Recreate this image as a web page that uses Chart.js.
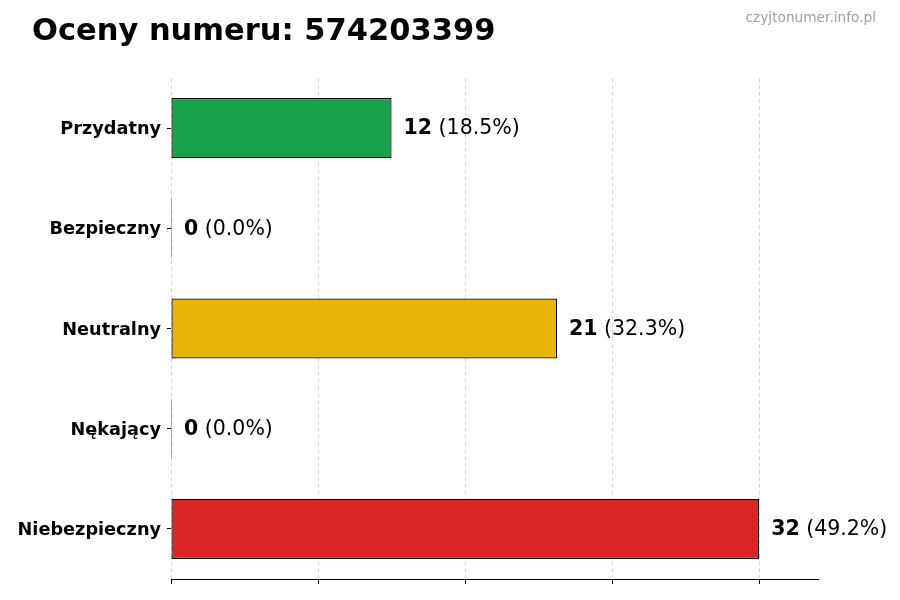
<!DOCTYPE html>
<html>
<head>
<meta charset="utf-8">
<script src="https://cdn.jsdelivr.net/npm/chart.js@4"></script>
<style>
  html, body { margin: 0; padding: 0; background: #fff; }
  #wrap { width: 900px; height: 600px; }
</style>
</head>
<body>
<div id="wrap"><canvas id="grafico" width="900" height="600"></canvas></div>
<script>
const tytul = "Oceny numeru: 574203399";
const znakWodny = "czyjtonumer.info.pl";
const kategorie = ["Przydatny", "Bezpieczny", "Neutralny", "Nękający", "Niebezpieczny"];
const liczby = [12, 0, 21, 0, 32];
const kolory = ["#16A34A", "#9CA3AF", "#EAB308", "#F97316", "#DC2626"];
const osX = [0, 8, 16, 24, 32];

const FONT = "'DejaVu Sans', sans-serif";
const suma = liczby.reduce((a, b) => a + b, 0);

// etykiety przy słupkach, tytuł i znak wodny
const etykiety = {
  id: "etykiety",
  afterDatasetsDraw(chart) {
    const ctx = chart.ctx;
    const meta = chart.getDatasetMeta(0);
    ctx.save();
    ctx.textBaseline = "middle";
    meta.data.forEach((bar, i) => {
      const wartosc = String(liczby[i]);
      const proc = " (" + (suma ? (liczby[i] / suma * 100) : 0).toFixed(1) + "%)";
      let x = bar.x + 12;
      ctx.fillStyle = "#000";
      ctx.font = "bold 20.5px " + FONT;
      ctx.fillText(wartosc, x, bar.y + 1);
      x += ctx.measureText(wartosc).width;
      ctx.font = "20.5px " + FONT;
      ctx.fillText(proc, x, bar.y + 1);
    });
    ctx.restore();
  },
  afterDraw(chart) {
    const ctx = chart.ctx;
    ctx.save();
    ctx.fillStyle = "#000";
    ctx.textBaseline = "alphabetic";
    ctx.font = "bold 30.5px " + FONT;
    ctx.fillText(tytul, 32, 40);
    ctx.fillStyle = "#a0a0a0";
    ctx.font = "13.7px " + FONT;
    ctx.textAlign = "right";
    ctx.fillText(znakWodny, 876, 22);
    ctx.restore();
  }
};

new Chart(document.getElementById("grafico").getContext("2d"), {
  type: "bar",
  data: {
    labels: kategorie,
    datasets: [{
      data: liczby,
      backgroundColor: kolory,
      borderColor: "#000",
      borderWidth: 1.2,
      borderSkipped: false,
      minBarLength: 1,
      categoryPercentage: 1,
      barPercentage: 0.6
    }]
  },
  options: {
    indexAxis: "y",
    responsive: false,
    animation: false,
    devicePixelRatio: 1,
    layout: { padding: { top: 78, right: 82, bottom: 1, left: 0 } },
    plugins: {
      legend: { display: false },
      tooltip: { enabled: false }
    },
    scales: {
      x: {
        min: 0,
        max: 35.2,
        afterBuildTicks: scale => { scale.ticks = osX.map(v => ({ value: v })); },
        afterFit: scale => { scale.height = 20; },
        ticks: { callback: () => "", padding: 0 },
        grid: {
          color: "#d6d6d6",
          lineWidth: 1,
          tickColor: "#000",
          tickBorderDash: [],
          tickLength: 5,
          tickWidth: 1
        },
        border: { display: true, color: "#000", width: 1, dash: [4, 3] }
      },
      y: {
        afterFit: scale => { scale.width = 171; },
        ticks: {
          color: "#000",
          font: { family: FONT, size: 17.7, weight: "bold" },
          padding: 6,
          labelOffset: 1.5
        },
        grid: {
          offset: false,
          drawOnChartArea: false,
          drawTicks: true,
          tickLength: 4,
          tickColor: "#000"
        },
        border: { display: false }
      }
    }
  },
  plugins: [etykiety]
});
</script>
</body>
</html>
